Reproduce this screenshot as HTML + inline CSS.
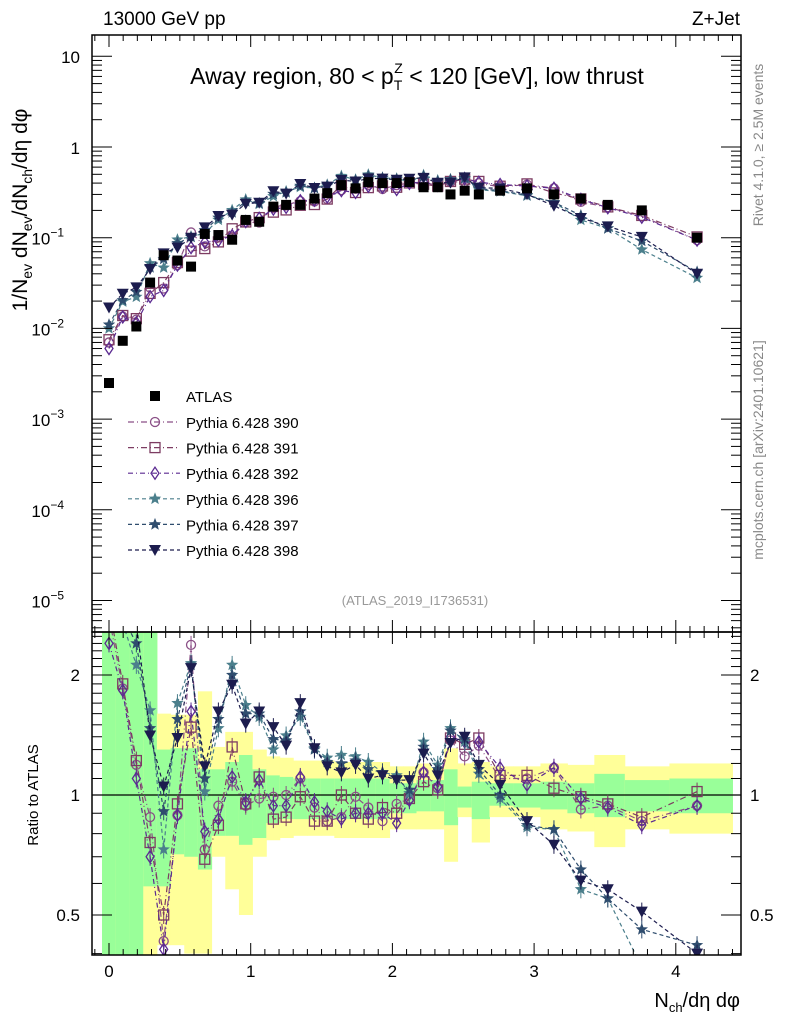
<!DOCTYPE html>
<html><head><meta charset="utf-8"><style>
body{margin:0;background:#fff;}
svg{display:block;font-family:"Liberation Sans",sans-serif;}
</style></head><body>
<svg id="c" width="786" height="1024" xmlns="http://www.w3.org/2000/svg"></svg>
<script>
const xVals=[0,0.097,0.193,0.29,0.386,0.483,0.579,0.676,0.772,0.869,0.965,1.06,1.16,1.25,1.35,1.45,1.54,1.64,1.74,1.83,1.93,2.03,2.12,2.22,2.32,2.41,2.51,2.61,2.76,2.95,3.14,3.33,3.52,3.76,4.15];
const atlas=[0.0025,0.0073,0.0105,0.032,0.064,0.056,0.048,0.11,0.107,0.095,0.157,0.15,0.22,0.23,0.23,0.27,0.31,0.38,0.35,0.41,0.40,0.40,0.41,0.36,0.36,0.30,0.33,0.30,0.33,0.35,0.30,0.27,0.23,0.20,0.10];
const r390=[2.8,1.85,1.19,0.88,0.43,0.89,2.38,0.73,0.94,1.08,0.94,0.98,0.99,1.0,1.1,0.93,0.86,0.88,0.99,0.93,0.86,0.95,0.98,1.14,1.04,1.37,1.25,1.33,1.10,1.10,1.17,0.92,0.94,0.86,0.94];
const r391=[3.0,1.9,1.22,0.76,0.5,0.95,1.48,0.69,0.84,1.32,0.95,1.11,0.87,0.88,0.99,0.86,0.86,1.0,0.90,0.87,0.93,0.90,0.98,1.08,1.03,1.39,1.34,1.39,1.12,1.12,1.04,0.99,0.95,0.88,1.02];
const r392=[2.4,1.83,1.1,0.7,0.41,0.89,1.62,0.81,0.87,1.11,0.96,1.09,0.94,0.94,1.11,0.96,0.91,0.87,0.90,0.90,0.90,0.85,0.97,1.14,1.05,1.40,1.36,1.36,1.17,1.06,1.17,0.98,0.93,0.84,0.94];
const r396=[4.0,2.7,2.12,1.63,0.73,1.7,2.14,1.02,1.47,2.12,1.68,1.57,1.3,1.41,1.57,1.31,1.24,1.26,1.25,1.21,1.14,1.12,1.01,1.36,1.19,1.47,1.36,1.13,0.98,0.83,0.82,0.58,0.55,0.37,0.36];
const r397=[4.4,2.8,2.4,1.47,0.91,1.55,2.12,1.1,1.55,2.0,1.6,1.6,1.38,1.37,1.62,1.3,1.21,1.2,1.22,1.16,1.14,1.1,1.03,1.32,1.16,1.45,1.38,1.16,1.0,0.84,0.82,0.65,0.55,0.46,0.42];
const r398=[6.8,3.3,2.7,1.41,1.05,1.39,2.08,1.18,1.62,1.89,1.51,1.62,1.48,1.33,1.70,1.31,1.18,1.14,1.19,1.1,1.12,1.09,1.09,1.27,1.12,1.35,1.40,1.19,1.06,0.86,0.75,0.61,0.58,0.51,0.40];
const yelHi=[2.6,2.6,2.6,2.6,1.6,1.59,1.59,1.82,1.32,1.44,1.44,1.3,1.25,1.24,1.22,1.22,1.22,1.21,1.21,1.21,1.21,1.18,1.18,1.2,1.17,1.31,1.2,1.21,1.18,1.18,1.2,1.19,1.26,1.18,1.2];
const yelLo=[0.39,0.39,0.39,0.39,0.42,0.42,0.40,0.40,0.70,0.58,0.50,0.70,0.77,0.78,0.79,0.79,0.79,0.78,0.78,0.78,0.78,0.82,0.82,0.82,0.82,0.68,0.88,0.76,0.88,0.88,0.82,0.81,0.74,0.82,0.80];
const grnHi=[2.6,2.6,2.6,2.6,1.3,1.31,1.31,1.16,1.16,1.21,1.26,1.16,1.12,1.11,1.1,1.1,1.1,1.1,1.1,1.1,1.1,1.07,1.07,1.09,1.09,1.16,1.05,1.08,1.07,1.07,1.08,1.07,1.13,1.09,1.1];
const grnLo=[0.39,0.39,0.39,0.59,0.59,0.71,0.70,0.65,0.79,0.79,0.75,0.78,0.85,0.87,0.87,0.87,0.87,0.87,0.87,0.87,0.87,0.90,0.90,0.91,0.91,0.84,0.93,0.87,0.94,0.93,0.92,0.90,0.88,0.91,0.90];
const xTicks=[0,1,2,3,4];
const ratioTickLabels=[0.5,1,2];

const svg=document.getElementById('c');
const NS='http://www.w3.org/2000/svg';
function mk(tag,attrs,parent){const e=document.createElementNS(NS,tag);for(const k in attrs)e.setAttribute(k,attrs[k]);(parent||svg).appendChild(e);return e;}
const L=92,R=741,T=35,MB=632,RB=955;
const X=v=>109+141.7*v;
const Y=v=>147-90.7*Math.log10(v);
const YR=v=>Math.min(RB,Math.max(MB,795-120*Math.log2(v)));

const bands=mk('g',{});


for(let i=0;i<xVals.length;i++){
  const x0=i==0?X(xVals[0])-7:(X(xVals[i-1])+X(xVals[i]))/2;
  const x1=i==xVals.length-1?X(4.4):(X(xVals[i])+X(xVals[i+1]))/2;
  const y=mk('rect',{x:x0,y:YR(yelHi[i]),width:x1-x0+0.5,height:YR(yelLo[i])-YR(yelHi[i]),fill:'#ffff99'},bands);
  
  
  const g=mk('rect',{x:x0,y:YR(grnHi[i]),width:x1-x0+0.5,height:YR(grnLo[i])-YR(grnHi[i]),fill:'#99ff99'},bands);
  
  
}
mk('line',{x1:L,x2:R,y1:795,y2:795,stroke:'#000','stroke-width':1.3});

const series=[
 {name:'Pythia 6.428 390',r:r390,col:'#8a4f86',mk:'circle',dash:'6,3,1,3'},
 {name:'Pythia 6.428 391',r:r391,col:'#7d3c62',mk:'square',dash:'6,3,1,3'},
 {name:'Pythia 6.428 392',r:r392,col:'#5b2a91',mk:'diamond',dash:'5,3,1,3'},
 {name:'Pythia 6.428 396',r:r396,col:'#4b7f8c',mk:'star',dash:'4,3'},
 {name:'Pythia 6.428 397',r:r397,col:'#2f4d6e',mk:'star',dash:'4,3'},
 {name:'Pythia 6.428 398',r:r398,col:'#1c1c4e',mk:'tri',dash:'4,3'}
];
function marker(type,x,y,col,g){
  let e;
  if(type=='circle')e=mk('circle',{cx:x,cy:y,r:4.5,fill:'none',stroke:col,'stroke-width':1.3},g);
  else if(type=='square')e=mk('rect',{x:x-5,y:y-5,width:10,height:10,fill:'none',stroke:col,'stroke-width':1.3},g);
  else if(type=='diamond')e=mk('path',{d:`M${x},${y-6}L${x+4},${y}L${x},${y+6}L${x-4},${y}Z`,fill:'none',stroke:col,'stroke-width':1.3},g);
  else if(type=='tri')e=mk('path',{d:`M${x-6},${y-5}L${x+6},${y-5}L${x},${y+6}Z`,fill:col},g);
  else if(type=='star'){let p='';for(let k=0;k<10;k++){const a=-Math.PI/2+k*Math.PI/5,rr=k%2?2.8:6.5;p+=(k?'L':'M')+(x+rr*Math.cos(a)).toFixed(1)+','+(y+rr*Math.sin(a)).toFixed(1);}e=mk('path',{d:p+'Z',fill:col},g);}
  else if(type=='atlas')e=mk('rect',{x:x-5,y:y-5,width:10,height:10,fill:'#000'},g);
  return e;
}
const clipM=mk('clipPath',{id:'cm'});mk('rect',{x:L,y:T,width:R-L,height:MB-T},clipM);
const clipR=mk('clipPath',{id:'cr'});mk('rect',{x:L,y:MB,width:R-L,height:RB-MB},clipR);

series.forEach((s,si)=>{
  const gm=mk('g',{'clip-path':'url(#cm)'});
  
  
  const gr=mk('g',{'clip-path':'url(#cr)'});
  
  
  let pm='',pr='';
  xVals.forEach((xv,i)=>{const v=atlas[i]*s.r[i];pm+=(i?'L':'M')+X(xv).toFixed(1)+','+Y(v).toFixed(1);pr+=(i?'L':'M')+X(xv).toFixed(1)+','+(795-120*Math.log2(s.r[i])).toFixed(1);});
  mk('path',{d:pm,fill:'none',stroke:s.col,'stroke-width':1.2,'stroke-dasharray':s.dash},gm);
  mk('path',{d:pr,fill:'none',stroke:s.col,'stroke-width':1.2,'stroke-dasharray':s.dash},gr);
  xVals.forEach((xv,i)=>{
    const v=atlas[i]*s.r[i];
    const yy=795-120*Math.log2(s.r[i]);
    mk('line',{x1:X(xv),x2:X(xv),y1:yy-9,y2:yy+9,stroke:s.col,'stroke-width':1},gr);
    const m1=marker(s.mk,X(xv),Y(v),s.col,gm);
    
    
    const m2=marker(s.mk,X(xv),yy,s.col,gr);
    
    
  });
});
const ga=mk('g',{'clip-path':'url(#cm)'});


xVals.forEach((xv,i)=>{const m=marker('atlas',X(xv),Y(atlas[i]),'#000',ga);});

const fr1=mk('rect',{x:L,y:T,width:R-L,height:MB-T,fill:'none',stroke:'#000','stroke-width':1.5});

const fr2=mk('rect',{x:L,y:MB,width:R-L,height:RB-MB,fill:'none',stroke:'#000','stroke-width':1.5});


function txt(s,x,y,attrs,name){const t=mk('text',Object.assign({x:x,y:y,'font-size':17,fill:'#000'},attrs||{}));t.innerHTML=s;return t;}

for(let v=-0.1;v<=4.45;v+=0.1){const vv=Math.round(v*10)/10;const maj=Math.abs(vv-Math.round(vv))<1e-6;const l=maj?12:6;const x=X(vv);if(x<L||x>R)continue;
 [T,MB].forEach(y0=>mk('line',{x1:x,x2:x,y1:y0,y2:y0+l,stroke:'#000'}));
 [MB,RB].forEach(y0=>mk('line',{x1:x,x2:x,y1:y0,y2:y0-l,stroke:'#000'}));}
xTicks.forEach(v=>txt(String(v),X(v),977,{'text-anchor':'middle'},'x-tick-label'));
for(let e=-6;e<=1;e++){for(let k=1;k<10;k++){const v=k*Math.pow(10,e);const y=Y(v);if(y<T||y>MB)continue;const l=k==1?20:10;
 mk('line',{x1:L,x2:L+l,y1:y,y2:y,stroke:'#000'});mk('line',{x1:R,x2:R-l,y1:y,y2:y,stroke:'#000'});}}
txt('10',80,63,{'text-anchor':'end'},'y-tick-label');
txt('1',80,154,{'text-anchor':'end'},'y-tick-label');
[-1,-2,-3,-4,-5].forEach(e=>txt('10<tspan dy="-8" font-size="12">−'+(-e)+'</tspan>',64,Y(Math.pow(10,e))+7,{'text-anchor':'end'},'y-tick-label'));
for(let k=4;k<=25;k++){const v=k/10;const y=795-120*Math.log2(v);if(y<MB||y>RB)continue;const maj=(v==0.5||v==1||v==2);const l=maj?20:10;
 mk('line',{x1:L,x2:L+l,y1:y,y2:y,stroke:'#000'});mk('line',{x1:R,x2:R-l,y1:y,y2:y,stroke:'#000'});}
ratioTickLabels.forEach(v=>{const y=795-120*Math.log2(v)+6;txt(String(v),80,y,{'text-anchor':'end'},'ratio-tick-label');txt(String(v),750,y,{},'ratio-tick-label-right');});

txt('13000 GeV pp',103,25,{'font-size':19},'energy-label');
txt('Z+Jet',740,25,{'font-size':19,'text-anchor':'end'},'process-label');
txt('Away region, 80 &lt; p<tspan dy="6" font-size="14">T</tspan><tspan dy="-17" dx="-8" font-size="14">Z</tspan><tspan dy="11"> &lt; 120 [GeV], low thrust</tspan>',417,84,{'text-anchor':'middle','font-size':23},'plot-title');
txt('(ATLAS_2019_I1736531)',415,605,{'text-anchor':'middle','font-size':13,fill:'#999'},'analysis-id');
txt('1/N<tspan dy="5" font-size="14">ev</tspan><tspan dy="-5"> dN</tspan><tspan dy="5" font-size="14">ev</tspan><tspan dy="-5">/dN</tspan><tspan dy="5" font-size="14">ch</tspan><tspan dy="-5">/dη dφ</tspan>',0,0,{'font-size':21,transform:'translate(27,210) rotate(-90)','text-anchor':'middle'},'y-axis-title');
txt('Ratio to ATLAS',0,0,{'font-size':15,transform:'translate(38,795) rotate(-90)','text-anchor':'middle'},'ratio-axis-title');
txt('N<tspan dy="5" font-size="13">ch</tspan><tspan dy="-5">/dη dφ</tspan>',740,1007,{'font-size':20,'text-anchor':'end'},'x-axis-title');
txt('Rivet 4.1.0, ≥ 2.5M events',0,0,{'font-size':14,fill:'#888',transform:'translate(763,145) rotate(-90)','text-anchor':'middle'},'rivet-label');
txt('mcplots.cern.ch [arXiv:2401.10621]',0,0,{'font-size':14,fill:'#888',transform:'translate(763,450) rotate(-90)','text-anchor':'middle'},'mcplots-label');

const lg=mk('g',{});
const la=marker('atlas',155,396,'#000',lg);
txt('ATLAS',186,402,{'font-size':15},'legend-entry');
series.forEach((s,i)=>{const y=422+i*25.6;
 mk('line',{x1:128,x2:180,y1:y,y2:y,stroke:s.col,'stroke-width':1.2,'stroke-dasharray':s.dash},lg);
 const m=marker(s.mk,155,y,s.col,lg);
 txt(s.name,186,y+6,{'font-size':15},'legend-entry');});
</script>
</body></html>
